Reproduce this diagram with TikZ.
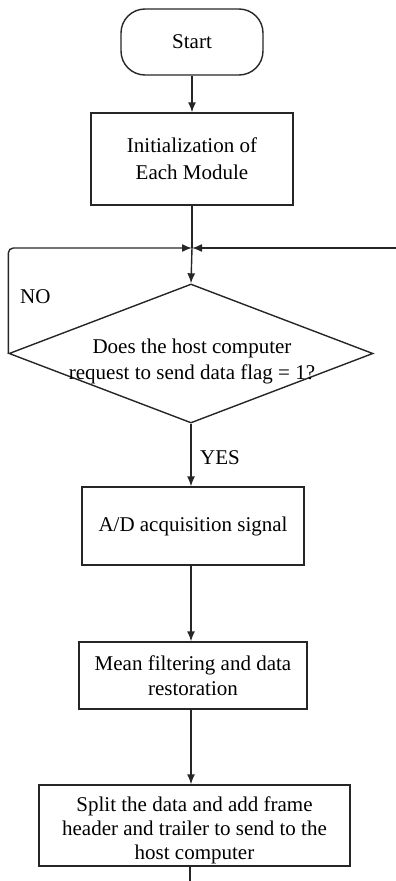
\documentclass[tikz,border=0pt]{standalone}
\usepackage{fontspec}
\setmainfont{Liberation Serif}
\usetikzlibrary{shapes.geometric,arrows.meta}
\begin{document}
\begin{tikzpicture}[x=1pt,y=-1pt,
  every node/.style={font=\fontsize{21}{27}\selectfont},
  line/.style={line width=1.4pt,draw=black!85},
  arr/.style={line, -{Latex[length=10pt,width=8pt]}},
  box/.style={line, rectangle, align=center, inner sep=0pt},
  term/.style={box, rounded corners=24pt},
  lbl/.style={inner sep=0pt}
]
\useasboundingbox (0,0) rectangle (396,881);
\node[term, minimum width=142pt, minimum height=66pt] (start) at (192,42) {Start};
\node[box, minimum width=202pt, minimum height=92pt] (init) at (192,159) {Initialization of\\Each Module};
\coordinate (j) at (192,248);
\coordinate (r) at (396,248);
\node[line, diamond, minimum width=364pt, minimum height=139pt, inner sep=0pt] (dec) at (191,353.5) {};
\node[align=center, inner sep=0pt, font=\fontsize{21}{26}\selectfont] (dectext) at (192,361) {Does the host computer\\request to send data flag = 1?};
\node[lbl, anchor=west] (no) at (20,297) {NO};
\node[box, minimum width=222pt, minimum height=78pt] (ad) at (193,526) {A/D acquisition signal};
\node[box, minimum width=228pt, minimum height=67pt, font=\fontsize{21}{25}\selectfont] (mean) at (193,675.5) {Mean filtering and data\\restoration};
\node[box, minimum width=311pt, minimum height=81pt] (split) at (194.5,825.5) {};
\node[align=center, inner sep=0pt, font=\fontsize{21}{24}\selectfont] (splittext) at (194.5,830) {Split the data and add frame\\header and trailer to send to the\\host computer};
\node[lbl, anchor=west] (yes) at (200,458) {YES};
\coordinate (endc) at (190,881);

\draw[arr] (start.south) -- (start.south |- init.north);
\draw[line] (init.south) -- (j);
\draw[arr] (j) -- (dec.north);
\draw[arr, rounded corners=5pt] (dec.west) -- (dec.west |- j) -- (j);
\draw[arr] (r) -- (j);
\draw[arr] (dec.south) -- (dec.south |- ad.north);
\draw[arr] (dec.south |- ad.south) -- (dec.south |- mean.north);
\draw[arr] (dec.south |- mean.south) -- (dec.south |- split.north);
\draw[line] (split.south -| endc) -- (endc);
\end{tikzpicture}
\end{document}
